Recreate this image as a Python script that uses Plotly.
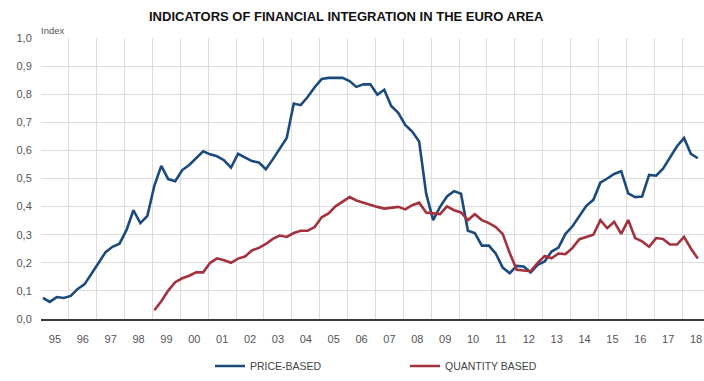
import plotly.graph_objects as go
import pandas as pd

# Quarterly observations, 1995Q1 .. 2018Q3
quarters = pd.period_range("1995Q1", periods=95, freq="Q")
dates = (quarters.to_timestamp() + pd.Timedelta(days=25)).strftime("%Y-%m-%d").tolist()

price_based = [
    0.075, 0.061, 0.078, 0.075, 0.082, 0.107, 0.124, 0.160,
    0.200, 0.238, 0.257, 0.268, 0.317, 0.387, 0.341, 0.367,
    0.475, 0.545, 0.498, 0.490, 0.530, 0.548, 0.574, 0.597,
    0.586, 0.579, 0.565, 0.539, 0.588, 0.576, 0.562, 0.557,
    0.533, 0.568, 0.607, 0.644, 0.767, 0.761, 0.790, 0.825,
    0.854, 0.858, 0.858, 0.858, 0.847, 0.826, 0.835, 0.835,
    0.798, 0.816, 0.758, 0.734, 0.691, 0.667, 0.632, 0.446,
    0.352, 0.399, 0.436, 0.455, 0.446, 0.314, 0.306, 0.261,
    0.261, 0.233, 0.183, 0.163, 0.189, 0.187, 0.166, 0.193,
    0.205, 0.240, 0.254, 0.303, 0.330, 0.367, 0.403, 0.424,
    0.485, 0.500, 0.516, 0.526, 0.447, 0.434, 0.436, 0.513,
    0.510, 0.535, 0.576, 0.615, 0.644, 0.588, 0.572,
]

quantity_based = [None] * 16 + [
    0.031, 0.063, 0.101, 0.131, 0.145, 0.154, 0.166, 0.166,
    0.200, 0.216, 0.209, 0.200, 0.215, 0.222, 0.244, 0.253,
    0.267, 0.285, 0.297, 0.292, 0.306, 0.314, 0.314, 0.327,
    0.362, 0.376, 0.401, 0.417, 0.434, 0.422, 0.414, 0.405,
    0.399, 0.393, 0.396, 0.399, 0.390, 0.405, 0.414, 0.379,
    0.376, 0.373, 0.401, 0.387, 0.379, 0.352, 0.373, 0.352,
    0.341, 0.327, 0.303, 0.235, 0.175, 0.172, 0.170, 0.200,
    0.224, 0.216, 0.233, 0.231, 0.253, 0.284, 0.293, 0.300,
    0.352, 0.323, 0.346, 0.303, 0.352, 0.288, 0.276, 0.257,
    0.288, 0.285, 0.265, 0.265, 0.292, 0.251, 0.215,
]

series_names = ["PRICE-BASED", "QUANTITY BASED"]
series_colors = ["#1c4a7d", "#a3323f"]
title_text = "INDICATORS OF FINANCIAL INTEGRATION IN THE EURO AREA"

FONT = "Liberation Sans, Arial, sans-serif"

fig = go.Figure()
for name, vals, col in zip(series_names, [price_based, quantity_based], series_colors):
    fig.add_trace(go.Scatter(
        x=dates, y=vals, name=name, mode="lines",
        line=dict(color=col, width=2.6), connectgaps=False,
    ))

fig.update_layout(
    width=704, height=381,
    margin=dict(l=41, r=0, t=38, b=57),
    paper_bgcolor="white", plot_bgcolor="white",
    separators=",.",
    font=dict(family=FONT, size=11, color="#555555"),
    showlegend=True,
    legend=dict(
        orientation="h", x=0.549, xanchor="center", y=-0.167, yanchor="middle",
        font=dict(family=FONT, size=10.5, color="#444444"),
        entrywidth=150, entrywidthmode="pixels",
        bgcolor="rgba(0,0,0,0)",
    ),
    xaxis=dict(
        type="date",
        range=["1995-01-01", "2018-10-15"],
        tick0="1995-01-01", dtick="M12", tickformat="%y",
        ticklabelmode="period",
        showgrid=True, gridcolor="#dddddd", gridwidth=1,
        showline=True, linecolor="#3a3a3a", linewidth=1.5,
        ticks="outside", ticklen=9, tickcolor="rgba(0,0,0,0)",
        tickfont=dict(size=11, color="#555555"),
        zeroline=False,
    ),
    yaxis=dict(
        range=[0, 1.0], dtick=0.1, tick0=0, tickformat=".1f",
        showgrid=True, gridcolor="#dddddd", gridwidth=1,
        zeroline=False, showline=False,
        ticks="outside", ticklen=6, tickcolor="rgba(0,0,0,0)",
        tickfont=dict(size=11, color="#555555"),
    ),
    annotations=[
        dict(text="<b>" + title_text + "</b>", xref="paper", yref="paper",
             x=0.4615, y=1.077, xanchor="center", yanchor="middle", showarrow=False,
             font=dict(family=FONT, size=13, color="#111111")),
        dict(text="Index", xref="paper", yref="paper", x=0, y=1.028,
             xanchor="left", yanchor="middle", xshift=-2, showarrow=False,
             font=dict(family=FONT, size=9.5, color="#555555")),
    ],
)

fig.write_html("out.html")
